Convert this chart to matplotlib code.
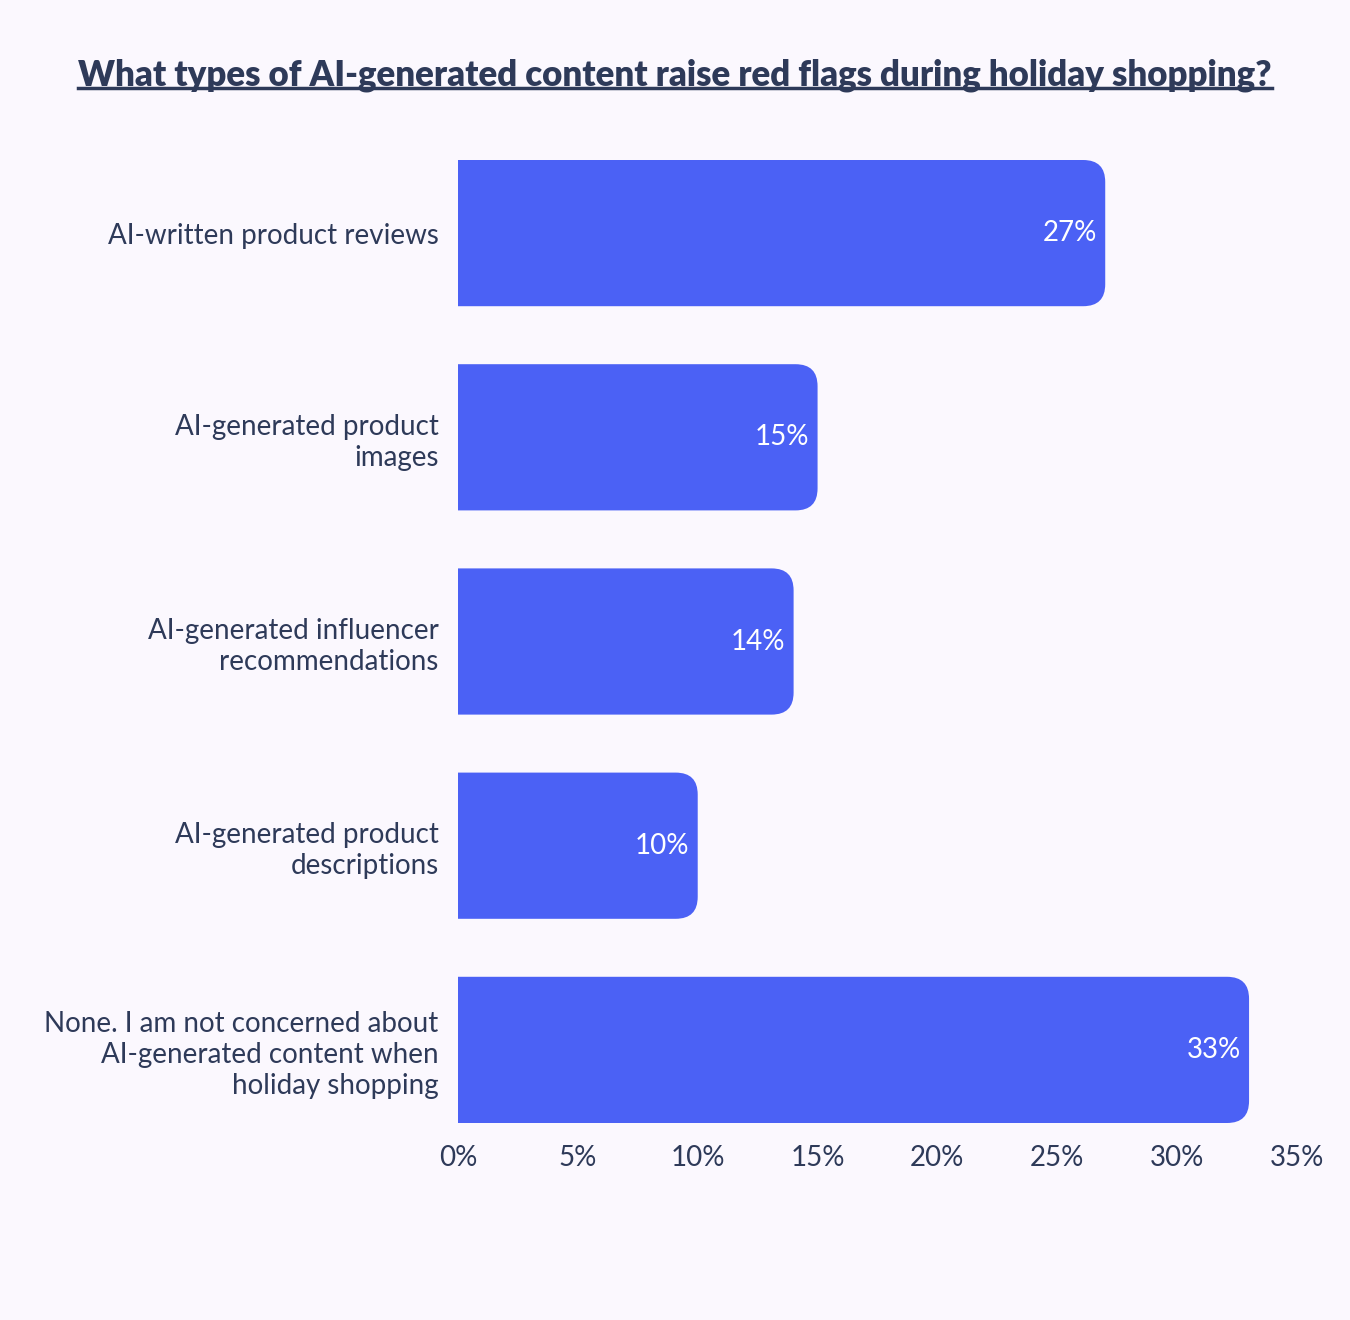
import matplotlib
matplotlib.use("Agg")
import matplotlib.pyplot as plt
from matplotlib.patches import FancyBboxPatch

categories = ["AI-written product reviews", "AI-generated product\nimages",
              "AI-generated influencer\nrecommendations", "AI-generated product\ndescriptions",
              "None. I am not concerned about\nAI-generated content when\nholiday shopping"]
values = [27, 15, 14, 10, 33]
ticks = [0, 5, 10, 15, 20, 25, 30, 35]
tick_labels = ["0%", "5%", "10%", "15%", "20%", "25%", "30%", "35%"]
title = "What types of AI-generated content raise red flags during holiday shopping?"

BG = "#FBF8FE"; BAR = "#4B61F5"; TXT = "#2E3A59"
plt.rcParams["font.family"] = "Lato"
W, H = 1350, 1320
fig = plt.figure(figsize=(13.5, 13.2), dpi=100, facecolor=BG)
x0, x1, yt, yb = 458, 1297, 160, 1123
ax = fig.add_axes([x0/W, 1-yb/H, (x1-x0)/W, (yb-yt)/H], facecolor=BG)
h = 0.716
ax.set_xlim(0, 35)
ax.set_ylim(len(values)-1+h/2, -h/2)
xpp = 35/(x1-x0); ypp = (len(values)-1+h)/(yb-yt)
r = 22
off = 3*r*xpp
for i, v in enumerate(values):
    p = FancyBboxPatch((-off, i-h/2), v+off, h, boxstyle=f"round,pad=0,rounding_size={r*xpp}",
                       mutation_aspect=ypp/xpp, fc=BAR, ec="none", lw=0)
    ax.add_patch(p)
    p.set_clip_on(True); p.set_clip_box(ax.bbox)
    ax.text(v-0.35, i, f"{v}%", color="white", fontsize=20, ha="right", va="center")
ax.set_yticks(range(len(values)))
ax.set_yticklabels(categories, fontsize=20, color=TXT, linespacing=1.25)
ax.set_xticks(ticks)
ax.set_xticklabels(tick_labels, fontsize=20, color=TXT)
ax.tick_params(axis="x", length=0, pad=16)
ax.tick_params(axis="y", length=0, pad=14)
for s in ax.spines.values():
    s.set_visible(False)
t = fig.text(0.5, 1-75/H, title, ha="center", va="center", fontsize=25, fontweight="black", color=TXT)
fig.canvas.draw()
bb = t.get_window_extent()
fig.add_artist(plt.Line2D([bb.x0/W, bb.x1/W], [(bb.y0+4)/H]*2, color=TXT, lw=2.5))
fig.savefig("out.png", dpi=100, facecolor=BG)
